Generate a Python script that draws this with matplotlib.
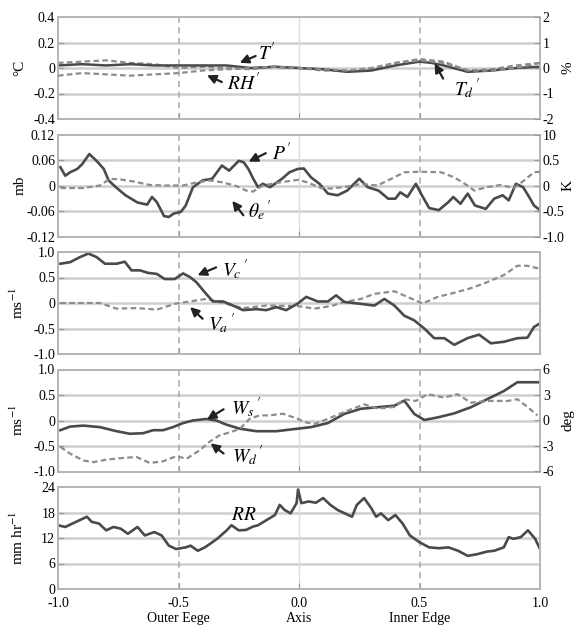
import numpy as np
import matplotlib
matplotlib.use('Agg')
import matplotlib.pyplot as plt

plt.rcParams['font.family'] = ['Liberation Serif', 'DejaVu Serif']
plt.rcParams['mathtext.fontset'] = 'stix'
plt.rcParams['axes.unicode_minus'] = False
#====================1======================
#       data
#===========================================
# panel 1: T', Td' in degC (left), RH' in % (right)
a_x1  = [-1.0, -0.9, -0.8, -0.7, -0.6, -0.5, -0.4, -0.3, -0.2, -0.1, 0.0,
         0.1, 0.2, 0.3, 0.4, 0.5, 0.55, 0.6, 0.7, 0.8, 0.9, 1.0]
a_T   = [0.02, 0.03, 0.02, 0.03, 0.02, 0.02, 0.02, 0.02, 0.0, 0.01, 0.0,
         -0.01, -0.03, -0.02, 0.02, 0.05, 0.04, 0.02, -0.03, -0.02, 0.0, 0.01]
a_Td  = [0.04, 0.05, 0.06, 0.04, 0.03, 0.0, 0.01, 0.0, -0.01, 0.01, 0.0,
         -0.02, -0.02, -0.01, 0.04, 0.07, 0.06, 0.05, -0.02, -0.01, 0.02, 0.04]
a_RH  = [-0.3, -0.2, -0.25, -0.3, -0.25, -0.2, -0.1, -0.05, 0.0, 0.05, 0.0,
         -0.05, -0.1, 0.0, 0.2, 0.3, 0.25, 0.2, -0.1, -0.1, 0.0, 0.2]
# panel 2: P' in mb (left), theta_e' in K (right)
a_xP  = [-0.99, -0.97, -0.95, -0.92, -0.90, -0.87, -0.84, -0.81, -0.79, -0.76,
         -0.72, -0.67, -0.63, -0.61, -0.59, -0.56, -0.54, -0.52, -0.49, -0.47,
         -0.44, -0.40, -0.36, -0.32, -0.29, -0.25, -0.23, -0.21, -0.19, -0.17,
         -0.15, -0.12, -0.09, -0.07, -0.04, -0.005,
         0.02, 0.05, 0.085, 0.12, 0.16, 0.2, 0.25, 0.285, 0.33, 0.37, 0.40, 0.42,
         0.45, 0.485, 0.51, 0.54, 0.58, 0.62, 0.64, 0.67, 0.70, 0.73, 0.775,
         0.81, 0.845, 0.87, 0.90, 0.93, 0.955, 0.975, 1.0]
a_P   = [0.043, 0.023, 0.031, 0.039, 0.05, 0.074, 0.058, 0.039, 0.012, -0.004,
         -0.023, -0.04, -0.045, -0.027, -0.039, -0.072, -0.074, -0.066, -0.062, -0.047,
         -0.004, 0.012, 0.016, 0.047, 0.035, 0.058, 0.055, 0.039, 0.016, -0.004,
         0.004, -0.004, 0.008, 0.016, 0.031, 0.039,
         0.04, 0.019, 0.004, -0.019, -0.023, -0.012, 0.016, -0.004, -0.012, -0.031, -0.031, -0.016,
         -0.027, 0.004, -0.023, -0.053, -0.058, -0.039, -0.027, -0.043, -0.019, -0.047, -0.055,
         -0.031, -0.023, -0.035, 0.004, -0.004, -0.027, -0.047, -0.058]
a_xTh = [-0.99, -0.895, -0.826, -0.785, -0.743, -0.688, -0.619, -0.55, -0.481, -0.426,
         -0.371, -0.315, -0.26, -0.219, -0.191, -0.15, -0.081, -0.005,
         0.036, 0.092, 0.133, 0.188, 0.257, 0.326, 0.382, 0.437, 0.506, 0.589,
         0.644, 0.699, 0.727, 0.782, 0.837, 0.892, 0.934, 0.975, 1.0]
a_Th  = [-0.05, -0.05, 0.0, 0.13, 0.12, 0.08, 0.01, 0.0, 0.0, 0.06,
         0.1, 0.06, -0.01, -0.1, -0.12, 0.0, 0.06, 0.11,
         0.06, -0.05, -0.06, -0.03, 0.03, 0.0, 0.13, 0.26, 0.27, 0.26,
         0.16, 0.0, -0.1, -0.03, 0.01, -0.05, 0.1, 0.26, 0.27]
# panel 3: Vc', Va' in m/s
a_xVc = [-0.99, -0.95, -0.909, -0.874, -0.84, -0.805, -0.757, -0.723, -0.695, -0.66,
         -0.626, -0.59, -0.557, -0.516, -0.481, -0.453, -0.426, -0.391, -0.357, -0.315,
         -0.274, -0.232, -0.177, -0.136, -0.094, -0.053, -0.005,
         0.03, 0.078, 0.12, 0.154, 0.188, 0.244, 0.313, 0.354, 0.396, 0.437,
         0.478, 0.52, 0.561, 0.603, 0.644, 0.699, 0.747, 0.796, 0.851, 0.906,
         0.948, 0.975, 1.0]
a_Vc  = [0.77, 0.8, 0.9, 0.97, 0.9, 0.77, 0.77, 0.81, 0.64, 0.64,
         0.59, 0.57, 0.47, 0.47, 0.58, 0.51, 0.41, 0.21, 0.03, 0.03,
         -0.05, -0.14, -0.12, -0.14, -0.08, -0.14, -0.01,
         0.12, 0.03, 0.03, 0.15, 0.02, -0.01, -0.05, 0.08, -0.05, -0.25,
         -0.34, -0.5, -0.69, -0.69, -0.82, -0.69, -0.62, -0.79, -0.76, -0.69,
         -0.68, -0.47, -0.4]
a_xVa = [-0.99, -0.826, -0.757, -0.674, -0.59, -0.51, -0.453, -0.385, -0.315, -0.232,
         -0.136, -0.005,
         0.064, 0.133, 0.188, 0.257, 0.313, 0.396, 0.45, 0.513, 0.575, 0.644,
         0.713, 0.782, 0.851, 0.906, 0.948, 1.0]
a_Va  = [0.0, 0.0, -0.11, -0.1, -0.13, -0.01, 0.03, 0.08, 0.0, -0.1,
         -0.05, -0.06,
         -0.11, -0.06, 0.02, 0.08, 0.18, 0.23, 0.12, -0.01, 0.12, 0.2,
         0.29, 0.41, 0.55, 0.73, 0.73, 0.67]
# panel 4: Ws' in m/s (left), Wd' in deg (right)
a_xWs = [-0.99, -0.95, -0.895, -0.826, -0.757, -0.702, -0.647, -0.605, -0.564, -0.523,
         -0.481, -0.44, -0.385, -0.343, -0.302, -0.246, -0.177, -0.094, -0.005,
         0.05, 0.12, 0.188, 0.257, 0.326, 0.396, 0.437, 0.478, 0.52, 0.575,
         0.644, 0.713, 0.782, 0.851, 0.906, 1.0]
a_Ws  = [-0.19, -0.12, -0.1, -0.13, -0.21, -0.26, -0.25, -0.19, -0.19, -0.13,
         -0.05, 0.0, 0.03, 0.0, -0.08, -0.16, -0.21, -0.21, -0.16,
         -0.13, -0.05, 0.13, 0.23, 0.26, 0.29, 0.39, 0.13, 0.01, 0.06,
         0.14, 0.26, 0.42, 0.58, 0.75, 0.75]
a_xWd = [-0.99, -0.95, -0.895, -0.853, -0.798, -0.73, -0.674, -0.619, -0.564, -0.509,
         -0.467, -0.412, -0.371, -0.33, -0.288, -0.246, -0.205, -0.164, -0.122, -0.067,
         -0.005, 0.023, 0.064, 0.12, 0.188, 0.271, 0.326, 0.396, 0.437, 0.485,
         0.533, 0.602, 0.658, 0.713, 0.782, 0.865, 0.906, 0.948, 0.989]
a_Wd  = [-3.1, -3.9, -4.7, -4.9, -4.6, -4.4, -4.3, -5.0, -4.8, -4.2,
         -4.5, -3.5, -2.5, -1.75, -1.4, -1.0, 0.2, 0.6, 0.6, 0.8,
         0.2, -0.2, -0.4, 0.2, 1.0, 1.9, 1.4, 1.6, 2.5, 2.3,
         3.1, 2.7, 3.1, 2.1, 2.3, 2.3, 2.5, 1.6, 0.6]
# panel 5: rain rate in mm/hr
a_xRR = [-1.0, -0.97, -0.94, -0.91, -0.88, -0.86, -0.83, -0.80, -0.77, -0.74,
         -0.71, -0.67, -0.64, -0.60, -0.57, -0.54, -0.51, -0.47, -0.45, -0.42,
         -0.39, -0.36, -0.34, -0.30, -0.28, -0.25, -0.22, -0.19, -0.17, -0.135,
         -0.10, -0.08, -0.06, -0.035, -0.01, -0.004, 0.01, 0.04, 0.07, 0.10,
         0.13, 0.16, 0.19, 0.22, 0.24, 0.27, 0.30, 0.32, 0.34, 0.37,
         0.40, 0.43, 0.46, 0.50, 0.54, 0.58, 0.62, 0.66, 0.70, 0.74,
         0.78, 0.81, 0.85, 0.87, 0.89, 0.92, 0.95, 0.98, 1.0]
a_RR  = [15.0, 14.6, 15.4, 16.2, 17.0, 15.8, 15.4, 13.8, 14.6, 14.2,
         13.0, 14.6, 12.6, 13.4, 12.6, 10.2, 9.4, 9.8, 10.2, 9.0,
         9.8, 11.0, 11.8, 13.8, 15.0, 13.8, 13.9, 14.7, 15.0, 16.2,
         17.4, 19.8, 18.6, 17.8, 20.2, 23.4, 20.2, 20.6, 20.3, 21.4,
         19.8, 18.6, 17.8, 17.0, 19.8, 21.4, 19.0, 17.0, 17.8, 16.2,
         17.4, 15.4, 12.6, 11.0, 9.8, 9.6, 9.8, 9.0, 7.8, 8.2,
         8.8, 9.0, 9.8, 12.2, 11.8, 12.2, 13.8, 11.8, 9.4]

# axis ticks
l_left_ticks  = [[-0.4, -0.2, 0, 0.2, 0.4], [-0.12, -0.06, 0, 0.06, 0.12],
                 [-1.0, -0.5, 0, 0.5, 1.0], [-1.0, -0.5, 0, 0.5, 1.0],
                 [0, 6, 12, 18, 24]]
l_left_labels = [['-0.4', '-0.2', '0', '0.2', '0.4'], ['-0.12', '-0.06', '0', '0.06', '0.12'],
                 ['-1.0', '-0.5', '0', '0.5', '1.0'], ['-1.0', '-0.5', '0', '0.5', '1.0'],
                 ['0', '6', '12', '18', '24']]
l_left_units  = ['°C', 'mb', 'ms$^{-1}$', 'ms$^{-1}$', 'mm hr$^{-1}$']
d_right = {0: ([-2, -1, 0, 1, 2], ['-2', '-1', '0', '1', '2'], '%'),
           1: ([-1, -0.5, 0, 0.5, 1], ['-1.0', '-0.5', '0', '0.5', '10'], 'K'),
           3: ([-6, -3, 0, 3, 6], ['-6', '-3', '0', '3', '6'], 'deg')}
x_ticks  = [-1.0, -0.5, 0.0, 0.5, 1.0]
x_labels = ['-1.0', '-0.5\nOuter Eege', '0.0\nAxis', '0.5\nInner Edge', '1.0']

#====================2======================
#               figure
#===========================================
solid_c, dash_c = '#4a4a4a', '#8c8c8c'
grid_c = '#cfcfcf'
fig = plt.figure(figsize=(5.81, 6.25), dpi=100)
W, H = 581., 625.
left, right = 58., 540.
top0, height, pitch = 17., 102., 117.5

l_ax = []
for i in range(5):
    top = top0 + i*pitch
    ax = fig.add_axes([left/W, 1 - (top + height)/H, (right - left)/W, height/H])
    ticks = l_left_ticks[i]
    ax.set_xlim(-1, 1)
    ax.set_ylim(ticks[0], ticks[-1])
    ax.set_yticks(ticks)
    ax.set_yticklabels(l_left_labels[i])
    ax.set_xticks(x_ticks)
    for t in ticks[1:-1]:
        ax.axhline(t, color=grid_c, lw=1.8, zorder=0)
    ax.axvline(0.0, color='#dddddd', lw=1.0, zorder=0)
    for xv in [-0.5, 0.5]:
        ax.axvline(xv, color='#a8a8a8', lw=1.1, ls=(0, (4, 3)), zorder=0)
    for s in ax.spines.values():
        s.set_color('#b5b5b5')
        s.set_linewidth(1.4)
    ax.tick_params(axis='both', direction='in', length=4, color='#999999',
                   labelsize=10, pad=2)
    if i < 4:
        ax.tick_params(axis='x', labelbottom=False)
    else:
        ax.set_xticklabels(x_labels)
        ax.tick_params(axis='x', pad=6)
    ax.set_ylabel(l_left_units[i], fontsize=11)
    ax.yaxis.set_label_coords(-0.066, 0.5)
    if i in d_right:
        rt, rl, unit = d_right[i]
        ax2 = ax.twinx()
        ax2.set_ylim(rt[0], rt[-1])
        ax2.set_yticks(rt)
        ax2.set_yticklabels(rl)
        ax2.tick_params(axis='y', direction='in', length=4, color='#999999',
                        labelsize=10, pad=2)
        for s in ax2.spines.values():
            s.set_visible(False)
        ax2.set_ylabel(unit, fontsize=11, rotation=90)
        ax2.yaxis.set_label_coords(1.045, 0.5)
        ax.ax2 = ax2
    l_ax.append(ax)

dash = (0, (2.5, 1.5))
# panel 1
ax = l_ax[0]
ax.plot(a_x1, a_Td, color=dash_c, lw=1.6, ls=dash)
ax.ax2.plot(a_x1, a_RH, color=dash_c, lw=1.6, ls=dash)
ax.plot(a_x1, a_T, color=solid_c, lw=1.8)
# panel 2
ax = l_ax[1]
ax.ax2.plot(a_xTh, a_Th, color=dash_c, lw=1.6, ls=dash)
ax.plot(a_xP, a_P, color=solid_c, lw=1.9)
# panel 3
ax = l_ax[2]
ax.plot(a_xVa, a_Va, color=dash_c, lw=1.6, ls=dash)
ax.plot(a_xVc, a_Vc, color=solid_c, lw=1.9)
# panel 4
ax = l_ax[3]
ax.ax2.plot(a_xWd, a_Wd, color=dash_c, lw=1.6, ls=dash)
ax.plot(a_xWs, a_Ws, color=solid_c, lw=1.9)
# panel 5
ax = l_ax[4]
ax.plot(a_xRR, a_RR, color=solid_c, lw=1.9)

#====================3======================
#           labels with arrows
#===========================================
l_notes = [  # panel, label, text pos, arrow tail, arrow tip
    (0, r"$T'$",         (-0.17, 0.12),  (-0.18, 0.094), (-0.246, 0.041)),
    (0, r"$RH'$",        (-0.30, -0.12), (-0.32, -0.11), (-0.382, -0.057)),
    (0, r"$T_d\,'$",     (0.645, -0.16), (0.598, -0.083), (0.563, 0.036)),
    (1, r"$P'$",         (-0.112, 0.076), (-0.138, 0.076), (-0.209, 0.056)),
    (1, r"$\theta_e\,'$", (-0.212, -0.058), (-0.231, -0.07), (-0.277, -0.036)),
    (2, r"$V_c\,'$",     (-0.32, 0.66),  (-0.344, 0.698), (-0.421, 0.544)),
    (2, r"$V_a\,'$",     (-0.379, -0.40), (-0.40, -0.309), (-0.452, -0.08)),
    (3, r"$W_s\,'$",     (-0.282, 0.25), (-0.313, 0.22),  (-0.382, 0.02)),
    (3, r"$W_d\,'$",     (-0.277, -0.69), (-0.313, -0.647), (-0.367, -0.447)),
]
for i, lab, tpos, tail, tip in l_notes:
    ax = l_ax[i]
    ax.annotate('', xy=tip, xytext=tail, zorder=5,
                arrowprops=dict(arrowstyle='-|>', color='#222222', lw=1.6,
                                mutation_scale=13, shrinkA=0, shrinkB=0))
    ax.text(tpos[0], tpos[1], lab, fontsize=14, ha='left', va='center', zorder=6)
l_ax[4].text(-0.282, 17.4, r"$RR$", fontsize=14, ha='left', va='center')

fig.savefig('out.png', dpi=100)
